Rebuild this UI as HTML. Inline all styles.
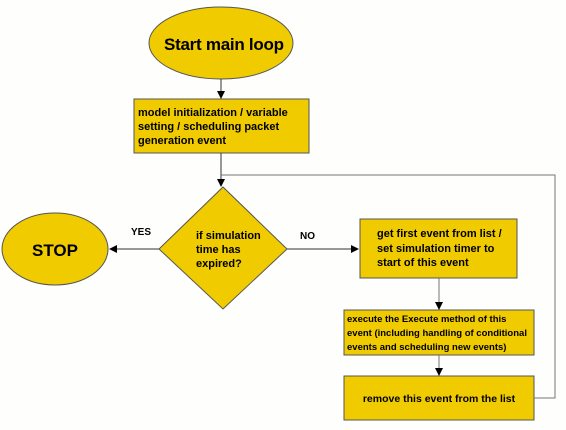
<!DOCTYPE html>
<html><head><style>
body{margin:0;background:#fefefc;}
svg text{font-family:"Liberation Sans",sans-serif;font-weight:bold;fill:#000;}
</style></head><body>
<svg width="566" height="425" viewBox="0 0 566 425" xmlns="http://www.w3.org/2000/svg">
<defs><marker id="a" markerWidth="8" markerHeight="8" refX="7" refY="4" orient="auto" markerUnits="userSpaceOnUse"><path d="M0,0 L8,4 L0,8 Z" fill="#000"/></marker></defs>
<g stroke="#555" stroke-width="1" fill="#efcb00">
<ellipse cx="221" cy="43" rx="72" ry="36"/>
<rect x="134" y="99" width="175" height="54"/>
<polygon points="223,187 287,249 223,309 159,249"/>
<ellipse cx="55" cy="249" rx="53" ry="36"/>
<rect x="360" y="219" width="157" height="59"/>
<rect x="344" y="310" width="190" height="45"/>
<rect x="344" y="376" width="190" height="44"/>
</g>
<g stroke="#333" stroke-width="1" fill="none">
<line x1="221" y1="79" x2="221" y2="98" marker-end="url(#a)"/>
<line x1="221" y1="153" x2="221" y2="186" marker-end="url(#a)"/>
<polyline points="534,398 555,398 555,175 221,175" stroke="#777"/>
<line x1="159" y1="249" x2="110" y2="249" marker-end="url(#a)"/>
<line x1="287" y1="249" x2="358" y2="249" marker-end="url(#a)"/>
<line x1="439" y1="278" x2="439" y2="309" marker-end="url(#a)" stroke="#777"/>
<line x1="439" y1="355" x2="439" y2="375" marker-end="url(#a)" stroke="#777"/>
</g>
<text x="224" y="50" font-size="17" text-anchor="middle" textLength="120">Start main loop</text>
<text font-size="11"><tspan x="138" y="116">model initialization / variable</tspan><tspan x="138" y="130">setting / scheduling packet</tspan><tspan x="138" y="144">generation event</tspan></text>
<text x="55" y="256" font-size="17" text-anchor="middle">STOP</text>
<text x="131" y="235" font-size="10">YES</text>
<text x="300" y="239" font-size="10">NO</text>
<text font-size="11"><tspan x="196" y="239">if simulation</tspan><tspan x="196" y="253">time has</tspan><tspan x="196" y="267">expired?</tspan></text>
<text font-size="11"><tspan x="377" y="237">get first event from list /</tspan><tspan x="377" y="252">set simulation timer to</tspan><tspan x="377" y="266">start of this event</tspan></text>
<text font-size="9.5"><tspan x="347" y="322">execute the Execute method of this</tspan><tspan x="347" y="336">event (including handling of conditional</tspan><tspan x="347" y="350">events and scheduling new events)</tspan></text>
<text x="439" y="402" font-size="10.5" text-anchor="middle">remove this event from the list</text>
</svg>
</body></html>
